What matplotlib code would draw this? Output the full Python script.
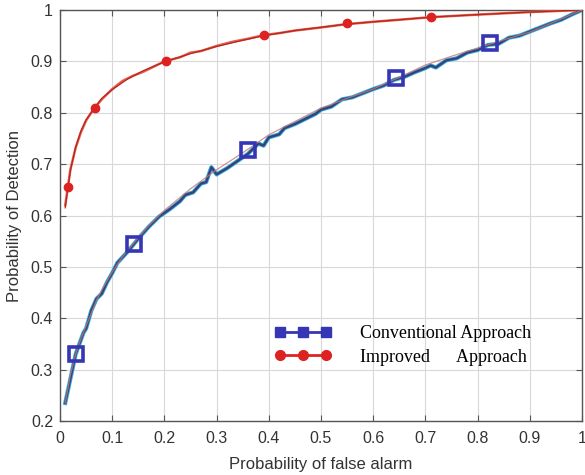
import numpy as np
import matplotlib
matplotlib.use("Agg")
import matplotlib.pyplot as plt
from matplotlib.lines import Line2D

# conventional approach: simulated (jagged) curve
conv_sim_x = [0.010, 0.030, 0.045, 0.050, 0.060, 0.070, 0.080, 0.090, 0.100, 0.110,
              0.130, 0.150, 0.170, 0.190, 0.210, 0.230, 0.240, 0.255, 0.270, 0.280,
              0.290, 0.300, 0.320, 0.340, 0.360, 0.380, 0.390, 0.400, 0.420, 0.430,
              0.450, 0.470, 0.490, 0.500, 0.520, 0.540, 0.560, 0.580, 0.600, 0.620,
              0.640, 0.660, 0.680, 0.700, 0.710, 0.720, 0.740, 0.760, 0.780, 0.800,
              0.820, 0.840, 0.860, 0.880, 0.900, 0.920, 0.940, 0.960, 0.980, 1.000]
conv_sim_y = [0.235, 0.330, 0.372, 0.380, 0.415, 0.438, 0.448, 0.470, 0.488, 0.508,
              0.530, 0.555, 0.578, 0.598, 0.612, 0.628, 0.640, 0.645, 0.662, 0.665,
              0.694, 0.680, 0.692, 0.706, 0.720, 0.740, 0.736, 0.752, 0.758, 0.770,
              0.778, 0.788, 0.798, 0.806, 0.812, 0.826, 0.830, 0.838, 0.846, 0.853,
              0.864, 0.870, 0.879, 0.887, 0.892, 0.888, 0.902, 0.906, 0.917, 0.922,
              0.932, 0.934, 0.946, 0.950, 0.958, 0.966, 0.974, 0.981, 0.991, 1.000]

# conventional approach: theoretical (smooth) curve
conv_th_x = [0.01, 0.02, 0.03, 0.04, 0.05, 0.06, 0.07, 0.08, 0.10, 0.12, 0.14, 0.17,
             0.20, 0.25, 0.30, 0.35, 0.40, 0.45, 0.50, 0.55, 0.60, 0.65, 0.70, 0.75,
             0.80, 0.85, 0.90, 0.95, 1.00]
conv_th_y = [0.235, 0.290, 0.330, 0.360, 0.385, 0.410, 0.435, 0.455, 0.490, 0.520,
             0.545, 0.580, 0.610, 0.652, 0.689, 0.722, 0.757, 0.783, 0.809, 0.828,
             0.846, 0.869, 0.893, 0.910, 0.926, 0.942, 0.957, 0.978, 1.000]
conv_mark_x = [0.03, 0.142, 0.36, 0.644, 0.824]
conv_mark_y = [0.330, 0.545, 0.727, 0.868, 0.935]

# improved approach
imp_sim_x = [0.010, 0.015, 0.020, 0.030, 0.040, 0.050, 0.065, 0.080, 0.100, 0.120,
             0.140, 0.160, 0.180, 0.200, 0.230, 0.250, 0.270, 0.300, 0.330, 0.360,
             0.390, 0.420, 0.450, 0.500, 0.545, 0.600, 0.650, 0.710, 0.800, 0.900, 1.000]
imp_sim_y = [0.620, 0.655, 0.690, 0.732, 0.762, 0.785, 0.808, 0.826, 0.846, 0.862,
             0.872, 0.880, 0.890, 0.900, 0.908, 0.917, 0.920, 0.930, 0.938, 0.944,
             0.951, 0.955, 0.960, 0.966, 0.972, 0.977, 0.981, 0.986, 0.991, 0.996, 1.000]
imp_th_x = [0.01, 0.015, 0.02, 0.03, 0.04, 0.05, 0.065, 0.08, 0.10, 0.13, 0.16, 0.20,
            0.25, 0.30, 0.35, 0.39, 0.45, 0.545, 0.60, 0.71, 0.80, 0.90, 1.00]
imp_th_y = [0.615, 0.652, 0.688, 0.733, 0.764, 0.786, 0.808, 0.828, 0.845, 0.866,
            0.882, 0.899, 0.915, 0.929, 0.941, 0.950, 0.960, 0.972, 0.977, 0.986,
            0.991, 0.996, 1.000]
imp_mark_x = [0.015, 0.067, 0.203, 0.391, 0.55, 0.711]
imp_mark_y = [0.655, 0.809, 0.900, 0.952, 0.974, 0.986]

x_ticks = [0, 0.1, 0.2, 0.3, 0.4, 0.5, 0.6, 0.7, 0.8, 0.9, 1]
x_labels = ["0", "0.1", "0.2", "0.3", "0.4", "0.5", "0.6", "0.7", "0.8", "0.9", "1"]
y_ticks = [0.2, 0.3, 0.4, 0.5, 0.6, 0.7, 0.8, 0.9, 1]
y_labels = ["0.2", "0.3", "0.4", "0.5", "0.6", "0.7", "0.8", "0.9", "1"]

plt.rcParams['font.family'] = ['Liberation Sans', 'DejaVu Sans']

fig = plt.figure(figsize=(5.85, 4.75), dpi=100)
ax = fig.add_axes([60 / 585, 1 - 421 / 475, 522 / 585, 411 / 475])

blue = '#3535b5'
red = '#dd2222'

# conventional
ax.plot(conv_sim_x, conv_sim_y, color='#2ab4e0', lw=3.0, zorder=3)
ax.plot(conv_sim_x, conv_sim_y, color='#3c3f78', lw=1.7, zorder=4)
ax.plot(conv_th_x, conv_th_y, color='#c87878', lw=0.9, alpha=0.8, zorder=5)
ax.plot(conv_mark_x, conv_mark_y, ls='none', marker='s', ms=10.5, mfc='none',
        mec=blue, mew=2.6, zorder=6)

# improved
ax.plot(imp_sim_x, imp_sim_y, color='#ec5a4c', lw=1.8, zorder=3)
ax.plot(imp_th_x, imp_th_y, color='#b02a1c', lw=0.9, zorder=4)
ax.plot(imp_mark_x, imp_mark_y, ls='none', marker='o', ms=6, color=red, zorder=6)

ax.set_xlim(0, 1)
ax.set_ylim(0.2, 1)
ax.set_xticks(x_ticks)
ax.set_xticklabels(x_labels)
ax.set_yticks(y_ticks)
ax.set_yticklabels(y_labels)
ax.grid(True, color='#d8d8d8', lw=0.8)
ax.set_axisbelow(True)
ax.tick_params(direction='in', top=True, right=True, length=4, color='#555555',
               labelsize=11.5, labelcolor='#333333')
ax.tick_params(axis='x', pad=7)
ax.tick_params(axis='y', pad=5)
for s in ax.spines.values():
    s.set_color('#555555')
    s.set_linewidth(1.0)

ax.set_xlabel("Probability of false alarm", fontsize=12, color='#333333', labelpad=8)
ax.set_ylabel("Probability of Detection", fontsize=12, color='#333333', labelpad=6)

handles = [
    Line2D([], [], color=blue, lw=2, marker='s', ms=7, mfc=blue, mec=blue),
    Line2D([], [], color=red, lw=2, marker='o', ms=7, mfc=red, mec=red),
]
ax.legend(handles, ["Conventional Approach", "Improved      Approach"],
          loc='center left', bbox_to_anchor=(206 / 522, 0.184), frameon=False,
          borderpad=0, numpoints=3, handlelength=3.1, handletextpad=1.6,
          labelspacing=0.35, prop={'family': 'Liberation Serif', 'size': 13})

fig.savefig("out.png", dpi=100)
